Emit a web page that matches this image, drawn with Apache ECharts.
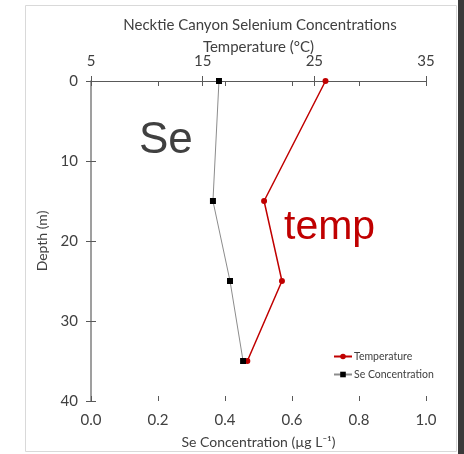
<!DOCTYPE html>
<html>
<head>
<meta charset="utf-8">
<script src="https://cdn.jsdelivr.net/npm/echarts@6/dist/echarts.min.js"></script>
<style>
  html, body { margin: 0; padding: 0; background: #fff; }
  #chart { width: 464px; height: 454px; }
</style>
</head>
<body>
<div id="chart"></div>
<script>
// Sampling depths (m)
const depths = [0, 15, 25, 35];
// Selenium concentration at each depth (µg L-1)
const seConcentration = [0.382, 0.364, 0.415, 0.454];
// Water temperature at each depth (°C)
const temperature = [26.0, 20.5, 22.1, 19.0];

const FONT = 'Lato';
const AXIS_COLOR = '#595959';
const LABEL_COLOR = '#404040';

const tempPoints = depths.map((d, i) => [temperature[i], d]);
const sePoints = depths.map((d, i) => [seConcentration[i], d]);

const chart = echarts.init(document.getElementById('chart'), null, { renderer: 'canvas' });

const labelStyle = { color: LABEL_COLOR, fontFamily: FONT, fontSize: 15 };

chart.setOption({
  animation: false,
  backgroundColor: '#ffffff',
  title: {
    text: 'Necktie Canyon Selenium Concentrations',
    left: 255, top: 13, textAlign: 'center',
    textStyle: { color: LABEL_COLOR, fontFamily: FONT, fontSize: 15, fontWeight: 'normal' }
  },
  grid: { left: 91, right: 38, top: 81, bottom: 52 },
  legend: {
    orient: 'vertical',
    left: 328, top: 346,
    itemWidth: 18, itemHeight: 7, itemGap: 7,
    data: ['Temperature', 'Se Concentration'],
    textStyle: { color: LABEL_COLOR, fontFamily: FONT, fontSize: 10.5, padding: [0, 0, 0, -3] }
  },
  xAxis: [
    {
      type: 'value', position: 'bottom',
      min: 0, max: 1, interval: 0.2,
      name: 'Se Concentration (µg L⁻¹)',
      nameLocation: 'middle', nameGap: 34, nameMoveOverlap: false,
      nameTextStyle: { color: LABEL_COLOR, fontFamily: FONT, fontSize: 14 },
      axisLine: { lineStyle: { color: AXIS_COLOR, width: 1 } },
      axisTick: { show: true, length: 5, lineStyle: { color: AXIS_COLOR } },
      axisLabel: Object.assign({ margin: 12, formatter: v => v.toFixed(1) }, labelStyle),
      splitLine: { show: false }
    },
    {
      type: 'value', position: 'top',
      min: 5, max: 35, interval: 10,
      name: 'Temperature (°C)',
      nameLocation: 'middle', nameGap: 26, nameMoveOverlap: false,
      nameTextStyle: { color: LABEL_COLOR, fontFamily: FONT, fontSize: 15 },
      axisLine: { lineStyle: { color: AXIS_COLOR, width: 1 } },
      axisTick: { show: true, length: 5, lineStyle: { color: AXIS_COLOR } },
      axisLabel: Object.assign({ margin: 12 }, labelStyle),
      splitLine: { show: false }
    },
    // inner halves of the crossing tick marks
    {
      type: 'value', position: 'bottom', min: 0, max: 1, interval: 0.2,
      axisLine: { show: false },
      axisTick: { show: true, inside: true, length: 5, lineStyle: { color: AXIS_COLOR } },
      axisLabel: { show: false }, splitLine: { show: false }
    },
    {
      type: 'value', position: 'top', min: 5, max: 35, interval: 10,
      axisLine: { show: false },
      axisTick: { show: true, inside: true, length: 5, lineStyle: { color: AXIS_COLOR } },
      axisLabel: { show: false }, splitLine: { show: false }
    }
  ],
  yAxis: [
    {
      type: 'value', inverse: true,
      min: 0, max: 40, interval: 10,
      name: 'Depth (m)',
      nameLocation: 'middle', nameGap: 42, nameRotate: 90, nameMoveOverlap: false,
      nameTextStyle: { color: LABEL_COLOR, fontFamily: FONT, fontSize: 14 },
      axisLine: { lineStyle: { color: '#7f7f7f', width: 1.5 } },
      axisTick: { show: true, length: 5, lineStyle: { color: AXIS_COLOR } },
      axisLabel: Object.assign({ margin: 13 }, labelStyle),
      splitLine: { show: false }
    },
    {
      type: 'value', inverse: true, position: 'left', offset: 0,
      min: 0, max: 40, interval: 10,
      axisLine: { show: false },
      axisTick: { show: true, inside: true, length: 5, lineStyle: { color: AXIS_COLOR } },
      axisLabel: { show: false }, splitLine: { show: false }
    }
  ],
  series: [
    {
      name: 'Temperature', type: 'line',
      xAxisIndex: 1, yAxisIndex: 0,
      data: tempPoints,
      symbol: 'circle', symbolSize: 6,
      itemStyle: { color: '#C00000' },
      lineStyle: { color: '#C00000', width: 1.5 },
      z: 2
    },
    {
      name: 'Se Concentration', type: 'line',
      xAxisIndex: 0, yAxisIndex: 0,
      data: sePoints,
      symbol: 'rect', symbolSize: 6,
      itemStyle: { color: '#000000' },
      lineStyle: { color: '#8c8c8c', width: 1 },
      z: 3
    }
  ],
  graphic: [
    {
      type: 'rect', silent: true, z: -1,
      shape: { x: 25.5, y: 5.5, width: 431, height: 446 },
      style: { fill: null, stroke: '#d9d9d9', lineWidth: 1 }
    },
    {
      type: 'rect', silent: true,
      shape: { x: 458, y: 0, width: 6, height: 454 },
      style: { fill: '#3a3a3a' }
    },
    {
      type: 'text', silent: true,
      style: { text: 'Se', x: 139, y: 119, verticalAlign: 'top',
        fill: '#404040', font: '44px "Liberation Sans", Arial, sans-serif' }
    },
    {
      type: 'text', silent: true,
      style: { text: 'temp', x: 284, y: 207, verticalAlign: 'top',
        fill: '#C00000', font: '41px "Liberation Sans", Arial, sans-serif' }
    }
  ]
});
</script>
</body>
</html>
